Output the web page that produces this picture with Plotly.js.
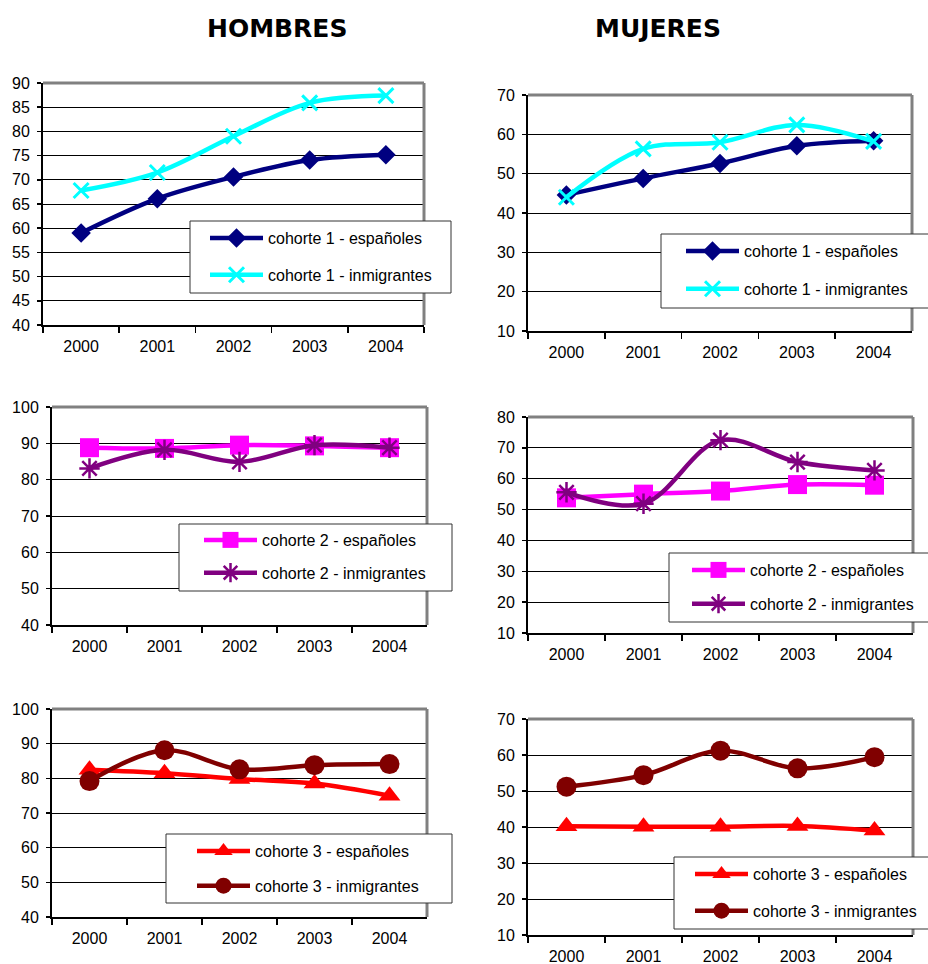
<!DOCTYPE html>
<html><head><meta charset="utf-8">
<script src="https://cdn.plot.ly/plotly-3.0.1.min.js"></script>
<style>html,body{margin:0;padding:0;background:#fff}#chart{width:928px;height:964px}</style>
</head><body><div id="chart"></div>
<script>
// ---- data ----
const years = ['2000', '2001', '2002', '2003', '2004'];
const seriesNames1 = ['cohorte 1 - españoles', 'cohorte 1 - inmigrantes'];
const seriesNames2 = ['cohorte 2 - españoles', 'cohorte 2 - inmigrantes'];
const seriesNames3 = ['cohorte 3 - españoles', 'cohorte 3 - inmigrantes'];
const panelTitles = ['HOMBRES', 'MUJERES'];

const hombres_c1_esp = [59.0, 66.1, 70.6, 74.1, 75.2];
const hombres_c1_inm = [67.8, 71.5, 79.0, 85.9, 87.4];
const mujeres_c1_esp = [44.6, 48.8, 52.6, 57.1, 58.4];
const mujeres_c1_inm = [44.0, 56.3, 58.0, 62.4, 58.2];
const hombres_c2_esp = [88.8, 88.6, 89.5, 89.3, 88.8];
const hombres_c2_inm = [83.1, 88.2, 84.9, 89.5, 88.8];
const mujeres_c2_esp = [53.8, 55.0, 56.0, 58.1, 57.9];
const mujeres_c2_inm = [55.6, 51.9, 72.5, 65.4, 62.7];
const hombres_c3_esp = [82.5, 81.5, 79.8, 78.5, 75.0];
const hombres_c3_inm = [79.2, 88.1, 82.6, 83.8, 84.1];
const mujeres_c3_esp = [40.2, 40.1, 40.1, 40.3, 39.0];
const mujeres_c3_inm = [51.2, 54.4, 61.2, 56.3, 59.4];

// ---- layout geometry (pixels) ----
const W = 928, H = 964;
const FONT = 'Liberation Sans, Arial, sans-serif';

const styles = {
  1: [{color: '#000080', symbol: 'diamond', size: 15, lw: 0},
      {color: '#00FFFF', symbol: 'x-thin', size: 15, lw: 3}],
  2: [{color: '#FF00FF', symbol: 'square', size: 19, lw: 0},
      {color: '#800080', symbol: 'asterisk', size: 17, lw: 2.5}],
  3: [{color: '#FF0000', symbol: 'triangle-up', size: 19, lw: 0},
      {color: '#800000', symbol: 'circle', size: 20, lw: 0}]
};

// box: plot area [left, right, top, bottom]; lbox: legend frame [l, t, r, b];
// lx: legend sample start x; ly: first entry centre y; gap: extra gap between entries
const panels = [
  {box: [43, 424, 83, 325],   yr: [40, 90],  dt: 5,  lbox: [190, 221, 451, 293], lx: 212, ly: 239, gap: 13, c: 1, names: seriesNames1, d: [hombres_c1_esp, hombres_c1_inm]},
  {box: [528, 912, 95, 331],  yr: [10, 70],  dt: 10, lbox: [661, 234, 931, 308], lx: 688, ly: 252, gap: 14, c: 1, names: seriesNames1, d: [mujeres_c1_esp, mujeres_c1_inm]},
  {box: [52, 427, 407, 625],  yr: [40, 100], dt: 10, lbox: [179, 524, 452, 591], lx: 206, ly: 541, gap: 9,  c: 2, names: seriesNames2, d: [hombres_c2_esp, hombres_c2_inm]},
  {box: [528, 913, 417, 633], yr: [10, 80],  dt: 10, lbox: [669, 553, 931, 622], lx: 694, ly: 571, gap: 10, c: 2, names: seriesNames2, d: [mujeres_c2_esp, mujeres_c2_inm]},
  {box: [52, 427, 709, 917],  yr: [40, 100], dt: 10, lbox: [166, 834, 452, 903], lx: 199, ly: 852, gap: 11, c: 3, names: seriesNames3, d: [hombres_c3_esp, hombres_c3_inm]},
  {box: [528, 913, 719, 935], yr: [10, 70],  dt: 10, lbox: [674, 857, 931, 929], lx: 697, ly: 875, gap: 13, c: 3, names: seriesNames3, d: [mujeres_c3_esp, mujeres_c3_inm]}
];

const traces = [];
const frameShapes = [];
const legendShapes = [];
const layout = {
  width: W, height: H,
  margin: {l: 0, r: 0, t: 0, b: 0, autoexpand: false},
  paper_bgcolor: '#fff', plot_bgcolor: '#fff',
  font: {family: FONT, size: 16, color: '#000'},
  showlegend: true,
  annotations: []
};

panels.forEach((p, i) => {
  const n = i + 1;
  const xa = n === 1 ? 'x' : 'x' + n;
  const ya = n === 1 ? 'y' : 'y' + n;
  const lg = n === 1 ? 'legend' : 'legend' + n;
  const st = styles[p.c];
  p.d.forEach((vals, k) => {
    const s = st[k];
    traces.push({
      type: 'scatter', mode: 'lines+markers',
      x: years, y: vals, name: p.names[k],
      xaxis: xa, yaxis: ya, legend: lg, legendgroup: 'g' + n + '_' + k,
      line: {color: s.color, width: 4.5, shape: 'spline', smoothing: 1},
      marker: {color: s.color, symbol: s.symbol, size: s.size,
               line: {color: s.color, width: s.lw}},
      hoverinfo: 'x+y'
    });
  });
  const [x0, x1, y0, y1] = p.box;
  layout[xa === 'x' ? 'xaxis' : 'xaxis' + n] = {
    domain: [x0 / W, x1 / W], anchor: ya, type: 'category',
    range: [-0.5, 4.5], tickson: 'boundaries', ticks: 'outside', ticklen: 6,
    tickcolor: '#000', tickwidth: 1.5, showline: true, linecolor: '#000', linewidth: 2,
    showgrid: false, zeroline: false, ticklabelstandoff: 6, fixedrange: true,
    tickfont: {size: 16}
  };
  layout[ya === 'y' ? 'yaxis' : 'yaxis' + n] = {
    domain: [1 - y1 / H, 1 - y0 / H], anchor: xa,
    range: p.yr, dtick: p.dt, tick0: 0, ticks: 'outside', ticklen: 4,
    tickcolor: '#000', tickwidth: 1.5, showline: true, linecolor: '#000', linewidth: 2,
    showgrid: true, gridcolor: '#000', gridwidth: 1, zeroline: false,
    ticklabelstandoff: 4, fixedrange: true, tickfont: {size: 16}
  };
  const xr = xa + ' domain', yr = ya + ' domain';
  frameShapes.push({type: 'line', xref: xr, yref: yr, x0: 0, x1: 1, y0: 1, y1: 1, line: {color: '#808080', width: 3}});
  frameShapes.push({type: 'line', xref: xr, yref: yr, x0: 1, x1: 1, y0: 0, y1: 1, line: {color: '#808080', width: 3}});
  const [lb0, lb1, lb2, lb3] = p.lbox;
  legendShapes.push({type: 'rect', xref: 'paper', yref: 'paper', layer: 'above',
    x0: lb0 / W, x1: lb2 / W, y0: 1 - lb3 / H, y1: 1 - lb1 / H,
    fillcolor: '#fff', line: {color: '#333', width: 1}});
  layout[lg] = {
    x: (p.lx - 7) / W, y: 1 - (p.ly - 18) / H, xanchor: 'left', yanchor: 'top',
    xref: 'paper', yref: 'paper',
    bgcolor: 'rgba(0,0,0,0)', borderwidth: 0,
    font: {family: FONT, size: 16, color: '#000'},
    traceorder: 'grouped', tracegroupgap: p.gap, itemwidth: 53
  };
});
layout.shapes = frameShapes.concat(legendShapes);

layout.annotations.push({xref: 'paper', yref: 'paper', x: 277 / W, y: 1 - 28 / H, xanchor: 'center', yanchor: 'middle',
  text: '<b>' + panelTitles[0] + '</b>', showarrow: false, font: {family: 'DejaVu Sans, sans-serif', size: 25, color: '#000'}});
layout.annotations.push({xref: 'paper', yref: 'paper', x: 658 / W, y: 1 - 28 / H, xanchor: 'center', yanchor: 'middle',
  text: '<b>' + panelTitles[1] + '</b>', showarrow: false, font: {family: 'DejaVu Sans, sans-serif', size: 25, color: '#000'}});

Plotly.newPlot('chart', traces, layout, {staticPlot: true, displayModeBar: false});
</script>
</body></html>
